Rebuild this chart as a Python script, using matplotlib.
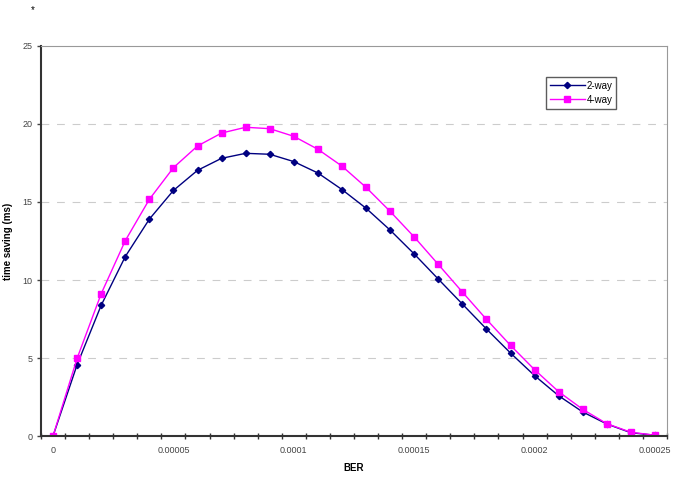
import matplotlib
matplotlib.use('Agg')
from matplotlib import pyplot as plt
import numpy as np

plt.rcParams['font.family'] = ['Liberation Sans', 'DejaVu Sans']

# BER categories (0 .. 0.00025 in steps of 0.00001)
ber = ['0', '0.00001', '0.00002', '0.00003', '0.00004', '0.00005', '0.00006',
       '0.00007', '0.00008', '0.00009', '0.0001', '0.00011', '0.00012',
       '0.00013', '0.00014', '0.00015', '0.00016', '0.00017', '0.00018',
       '0.00019', '0.0002', '0.00021', '0.00022', '0.00023', '0.00024',
       '0.00025']

two_way = [0, 4.57, 8.38, 11.5, 13.9, 15.74, 17.03, 17.8, 18.12, 18.06,
           17.59, 16.86, 15.8, 14.6, 13.2, 11.67, 10.06, 8.46, 6.86, 5.32,
           3.87, 2.58, 1.54, 0.77, 0.21, 0.05]
four_way = [0, 4.98, 9.12, 12.52, 15.17, 17.2, 18.59, 19.42, 19.79, 19.7,
            19.21, 18.38, 17.3, 15.94, 14.4, 12.76, 11.0, 9.23, 7.48, 5.81,
            4.25, 2.84, 1.71, 0.79, 0.24, 0.05]

label_every = 5

fig = plt.figure(figsize=(6.78, 4.88), dpi=100)
ax = fig.add_axes([41/678, 52/488, 626/678, 390/488])

idx = np.arange(len(ber))
ax.plot(idx, two_way, color='#000080', marker='D', markersize=3.2, lw=1.0,
        label='2-way')
ax.plot(idx, four_way, color='#FF00FF', marker='s', markersize=4.2, lw=1.0,
        label='4-way')

ax.set_xlim(-0.5, len(ber) - 0.5)
ax.set_ylim(0, 25)

# category labels under every 5th point, tick marks between categories
ax.set_xticks(idx[::label_every])
ax.set_xticklabels(ber[::label_every])
ax.tick_params(axis='x', which='major', length=0, pad=7, labelsize=6.5,
               colors='#444444')
ax.set_xticks(np.arange(-0.5, len(ber)), minor=True)
ax.tick_params(axis='x', which='minor', length=5, direction='inout',
               width=1, color='#333333')

ax.set_yticks([0, 5, 10, 15, 20, 25])
ax.tick_params(axis='y', length=3, direction='out', width=1,
               labelsize=6.5, colors='#444444', pad=3)
for t in ax.get_yticklines():
    t.set_color('#333333')

for v in [5, 10, 15, 20]:
    ax.axhline(v, color='#cccccc', lw=0.8, ls=(0, (7, 7)), zorder=0)

for s in ['left', 'bottom']:
    ax.spines[s].set_color('#333333')
    ax.spines[s].set_linewidth(1.5)
for s in ['top', 'right']:
    ax.spines[s].set_color('#999999')
    ax.spines[s].set_linewidth(0.8)

ax.set_xlabel('BER', fontsize=7, fontweight='bold', labelpad=6)
ax.set_ylabel('time saving (ms)', fontsize=7, fontweight='bold')
ax.yaxis.set_label_coords(-28/626, 0.5)

leg = ax.legend(loc='upper left', bbox_to_anchor=(500/626, 1 - 26/390),
                fontsize=7, frameon=True, fancybox=False, handlelength=3.6,
                borderpad=0.4, labelspacing=0.4, handletextpad=0.2)
leg.get_frame().set_edgecolor('#333333')
leg.get_frame().set_linewidth(1.0)

fig.text(33/678, 1 - 10/488, '*', fontsize=7, ha='center', va='center')

fig.savefig('out.png', dpi=100)
